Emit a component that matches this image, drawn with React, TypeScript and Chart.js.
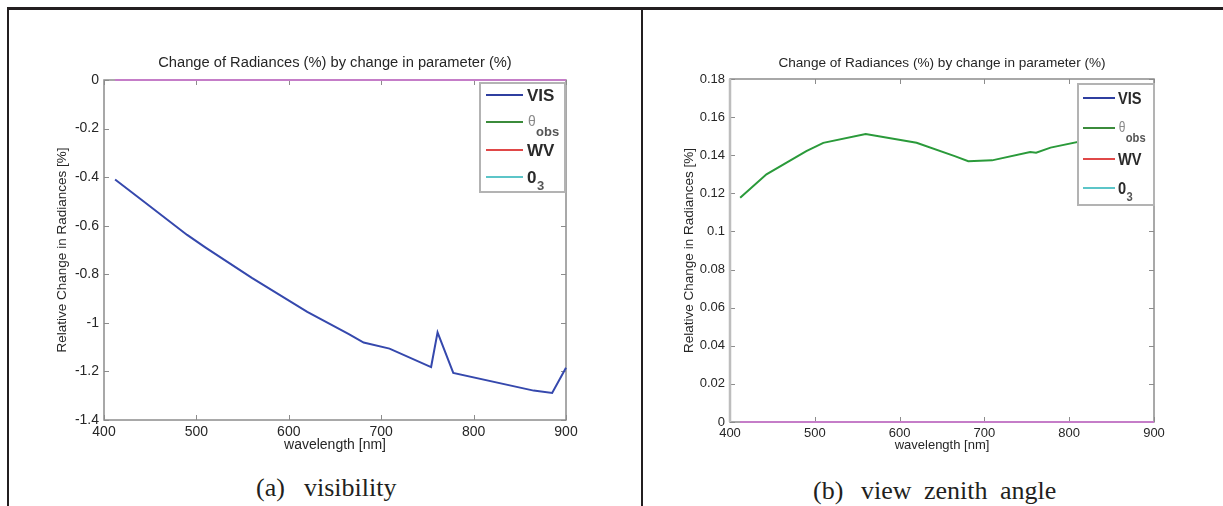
import React, { useEffect, useRef } from "react";
import { Chart, registerables } from "chart.js";

Chart.register(...registerables);

// MERIS-like band centres [nm]
const bands = [412, 443, 490, 510, 560, 620, 665, 681, 709, 754, 761, 778, 865, 885, 900];
// Panel (a): response to a change in visibility
const visResponse = [-0.41, -0.5, -0.638, -0.69, -0.815, -0.955, -1.046, -1.081, -1.106, -1.182, -1.039, -1.206, -1.279, -1.289, -1.185];
// Panel (b): response to a change in view zenith angle
const thetaResponse = [0.1177, 0.13, 0.1422, 0.1465, 0.1511, 0.1465, 0.1395, 0.1369, 0.1373, 0.1417, 0.1413, 0.144, 0.152, 0.153, 0.16];
// Parameters that leave the radiance unchanged
const flatResponse = [0, 0, 0, 0, 0, 0, 0, 0, 0, 0, 0, 0, 0, 0, 0];

const wavelengthTicks = [400, 500, 600, 700, 800, 900];
const visTicks = [-1.4, -1.2, -1, -0.8, -0.6, -0.4, -0.2, 0];
const thetaTicks = [0, 0.02, 0.04, 0.06, 0.08, 0.1, 0.12, 0.14, 0.16, 0.18];

const TITLE = "Change of Radiances (%) by change in parameter (%)";
const SANS = '"Liberation Sans", Arial, Helvetica, sans-serif';
const SERIF = '"Liberation Serif", "Times New Roman", serif';

const COLORS = {
  vis: "#3548ad",
  theta: "#2a9a3a",
  wv: "#e04848",
  o3: "#5cc5c8",
  flat: "#c67cc8",
  legendVis: "#2f3fa0",
  legendTheta: "#3b8b3b",
  text: "#262626",
  frame: "#8c8c8c",
};

type PanelLayout = {
  width: number;
  height: number;
  top: number;
  padRight: number;
  yWidth: number;
  xHeight: number;
  fontSize: number;
  titleSize: number;
  yTitleSize: number;
  yTitlePad: number;
  xTitlePad: number;
  titleY: number;
  yMin: number;
  yMax: number;
  yTicks: number[];
  leftAxisColor: string | null;
  datasets: any[];
};

const frameAndTitle = {
  id: "frameAndTitle",
  beforeDatasetsDraw(chart: any, _args: any, opts: any) {
    const { ctx, chartArea, scales } = chart;
    const { left, right, top, bottom } = chartArea;
    const x = scales.x;
    const y = scales.y;
    const len = 5;
    ctx.save();
    ctx.strokeStyle = COLORS.frame;
    ctx.lineWidth = 1;
    ctx.beginPath();
    x.ticks.forEach((t: any) => {
      const px = Math.round(x.getPixelForValue(t.value)) + 0.5;
      ctx.moveTo(px, bottom);
      ctx.lineTo(px, bottom - len);
      ctx.moveTo(px, top);
      ctx.lineTo(px, top + len);
    });
    y.ticks.forEach((t: any) => {
      const py = Math.round(y.getPixelForValue(t.value)) + 0.5;
      ctx.moveTo(left, py);
      ctx.lineTo(left + len, py);
      ctx.moveTo(right, py);
      ctx.lineTo(right - len, py);
    });
    ctx.stroke();
    ctx.lineWidth = 1.5;
    ctx.strokeRect(left, top, right - left, bottom - top);
    if (opts.leftAxisColor) {
      ctx.strokeStyle = opts.leftAxisColor;
      ctx.lineWidth = 2.5;
      ctx.beginPath();
      ctx.moveTo(left, top);
      ctx.lineTo(left, bottom);
      ctx.stroke();
    }
    ctx.restore();
  },
  afterDraw(chart: any, _args: any, opts: any) {
    const { ctx, chartArea } = chart;
    ctx.save();
    ctx.fillStyle = COLORS.text;
    ctx.font = `${opts.size}px ${SANS}`;
    ctx.textAlign = "center";
    ctx.textBaseline = "middle";
    ctx.fillText(TITLE, (chartArea.left + chartArea.right) / 2, opts.y);
    ctx.restore();
  },
};

function line(label: string, data: number[], color: string, width: number) {
  return {
    label,
    data: data.map((v, i) => ({ x: bands[i], y: v })),
    borderColor: color,
    backgroundColor: color,
    borderWidth: width,
    pointRadius: 0,
    tension: 0,
    fill: false,
    clip: 4,
  };
}

function buildConfig(p: PanelLayout): any {
  const tickFont = { family: SANS, size: p.fontSize };
  return {
    type: "line",
    data: { datasets: p.datasets },
    plugins: [frameAndTitle],
    options: {
      responsive: false,
      animation: false,
      layout: { padding: { top: p.top, right: p.padRight, left: 0, bottom: 0 } },
      plugins: {
        legend: { display: false },
        tooltip: { enabled: false },
        title: { display: false },
        frameAndTitle: {
          size: p.titleSize,
          y: p.titleY,
          leftAxisColor: p.leftAxisColor,
        },
      },
      scales: {
        x: {
          type: "linear",
          min: 400,
          max: 900,
          afterBuildTicks: (s: any) => {
            s.ticks = wavelengthTicks.map((value) => ({ value }));
          },
          afterFit: (s: any) => {
            s.height = p.xHeight;
          },
          grid: { display: false, drawTicks: false },
          border: { display: false },
          ticks: {
            font: tickFont,
            color: COLORS.text,
            padding: 4,
            maxRotation: 0,
            autoSkip: false,
            callback: (v: number) => String(v),
          },
          title: {
            display: true,
            text: "wavelength [nm]",
            font: tickFont,
            color: COLORS.text,
            padding: { top: 0, bottom: p.xTitlePad },
          },
        },
        y: {
          type: "linear",
          min: p.yMin,
          max: p.yMax,
          afterBuildTicks: (s: any) => {
            s.ticks = p.yTicks.map((value) => ({ value }));
          },
          afterFit: (s: any) => {
            s.width = p.yWidth;
          },
          grid: { display: false, drawTicks: false },
          border: { display: false },
          ticks: {
            font: tickFont,
            color: COLORS.text,
            padding: 5,
            autoSkip: false,
            callback: (v: number) => String(v),
          },
          title: {
            display: true,
            text: "Relative Change in Radiances [%]",
            font: { family: SANS, size: p.yTitleSize },
            color: COLORS.text,
            padding: { top: p.yTitlePad, bottom: 0 },
          },
        },
      },
    },
  };
}

const panelA: PanelLayout = {
  width: 640,
  height: 470,
  top: 80,
  padRight: 74,
  yWidth: 104,
  xHeight: 50,
  fontSize: 14,
  titleSize: 14.7,
  yTitleSize: 13.5,
  yTitlePad: 53.9,
  xTitlePad: 16.6,
  titleY: 63,
  yMin: -1.4,
  yMax: 0,
  yTicks: visTicks,
  leftAxisColor: null,
  datasets: [
    line("θobs", flatResponse, COLORS.flat, 1.5),
    line("WV", flatResponse, COLORS.flat, 1.5),
    line("O3", flatResponse, COLORS.flat, 1.5),
    line("VIS", visResponse, COLORS.vis, 2),
  ],
};

const panelB: PanelLayout = {
  width: 583,
  height: 470,
  top: 79,
  padRight: 69,
  yWidth: 90,
  xHeight: 48,
  fontSize: 13,
  titleSize: 13.6,
  yTitleSize: 13.5,
  yTitlePad: 40.9,
  xTitlePad: 17.2,
  titleY: 63,
  yMin: 0,
  yMax: 0.18,
  yTicks: thetaTicks,
  leftAxisColor: "#bdbdbd",
  datasets: [
    line("VIS", flatResponse, COLORS.flat, 1.5),
    line("WV", flatResponse, COLORS.flat, 1.5),
    line("O3", flatResponse, COLORS.flat, 1.5),
    line("θobs", thetaResponse, COLORS.theta, 2),
  ],
};

function Txt(props: {
  x: number;
  y: number;
  size: number;
  weight?: number;
  color?: string;
  children: React.ReactNode;
}) {
  return (
    <span
      style={{
        position: "absolute",
        left: props.x,
        top: props.y - props.size * 0.49,
        fontFamily: SANS,
        fontSize: props.size,
        fontWeight: props.weight ?? 700,
        color: props.color ?? "#2a2a2a",
        lineHeight: 1,
        whiteSpace: "nowrap",
      }}
    >
      {props.children}
    </span>
  );
}

type LegendBox = {
  left: number;
  top: number;
  width: number;
  height: number;
  swatchX: number;
  swatchW: number;
  textX: number;
  rows: number[];
  squeeze: number;
};

function Legend({ box }: { box: LegendBox }) {
  const swatches = [COLORS.legendVis, COLORS.legendTheta, COLORS.wv, COLORS.o3];
  const r = box.rows;
  return (
    <div
      style={{
        position: "absolute",
        left: box.left,
        top: box.top,
        width: box.width,
        height: box.height,
        boxSizing: "border-box",
        border: "2px solid #b3b3b3",
        background: "#fff",
      }}
    >
      {swatches.map((c, i) => (
        <div
          key={i}
          style={{
            position: "absolute",
            left: box.swatchX - 2,
            top: r[i] - 2 - 1.25,
            width: box.swatchW,
            height: 2.5,
            background: c,
          }}
        />
      ))}
      <div
        style={{
          position: "absolute",
          left: box.textX - 2,
          top: -2,
          width: 60,
          height: box.height,
          transform: `scaleX(${box.squeeze})`,
          transformOrigin: "left top",
        }}
      >
        <Txt x={0} y={r[0]} size={17}>VIS</Txt>
        <Txt x={1} y={r[1] - 1} size={14} weight={400} color="#8a8a8a">θ</Txt>
        <Txt x={9} y={r[1] + 9} size={13} color="#555">obs</Txt>
        <Txt x={0} y={r[2]} size={17}>WV</Txt>
        <Txt x={0} y={r[3]} size={17}>0</Txt>
        <Txt x={10} y={r[3] + 8} size={13} color="#555">3</Txt>
      </div>
    </div>
  );
}

const legendA: LegendBox = {
  left: 479,
  top: 82,
  width: 87,
  height: 111,
  swatchX: 7,
  swatchW: 37,
  textX: 48,
  rows: [13, 40, 68, 95],
  squeeze: 1,
};

const legendB: LegendBox = {
  left: 1077,
  top: 83,
  width: 78,
  height: 123,
  swatchX: 6,
  swatchW: 32,
  textX: 41,
  rows: [15, 45, 76, 105],
  squeeze: 0.86,
};

const rule = "#231f20";

export default function App() {
  const leftRef = useRef<HTMLCanvasElement>(null);
  const rightRef = useRef<HTMLCanvasElement>(null);

  useEffect(() => {
    const a = new Chart(leftRef.current as HTMLCanvasElement, buildConfig(panelA));
    const b = new Chart(rightRef.current as HTMLCanvasElement, buildConfig(panelB));
    return () => {
      a.destroy();
      b.destroy();
    };
  }, []);

  const caption: React.CSSProperties = {
    position: "absolute",
    fontFamily: SERIF,
    fontSize: 26,
    lineHeight: 1,
    color: rule,
    whiteSpace: "pre",
  };

  return (
    <div
      style={{
        position: "fixed",
        left: 0,
        top: 0,
        width: 1223,
        height: 506,
        background: "#fff",
        overflow: "hidden",
      }}
    >
      <canvas
        ref={leftRef}
        width={panelA.width}
        height={panelA.height}
        style={{ position: "absolute", left: 0, top: 0 }}
      />
      <canvas
        ref={rightRef}
        width={panelB.width}
        height={panelB.height}
        style={{ position: "absolute", left: 640, top: 0 }}
      />
      <Legend box={legendA} />
      <Legend box={legendB} />

      <span style={{ ...caption, left: 256, top: 475 }}>(a)</span>
      <span style={{ ...caption, left: 304, top: 475 }}>visibility</span>
      <span style={{ ...caption, left: 813, top: 477.5 }}>(b)</span>
      <span style={{ ...caption, left: 861, top: 477.5, wordSpacing: 6 }}>view zenith angle</span>

      <div style={{ position: "absolute", left: 7, top: 7, width: 1216, height: 2.5, background: rule }} />
      <div style={{ position: "absolute", left: 7, top: 7, width: 2, height: 499, background: rule }} />
      <div style={{ position: "absolute", left: 641, top: 7, width: 2, height: 499, background: rule }} />
    </div>
  );
}
